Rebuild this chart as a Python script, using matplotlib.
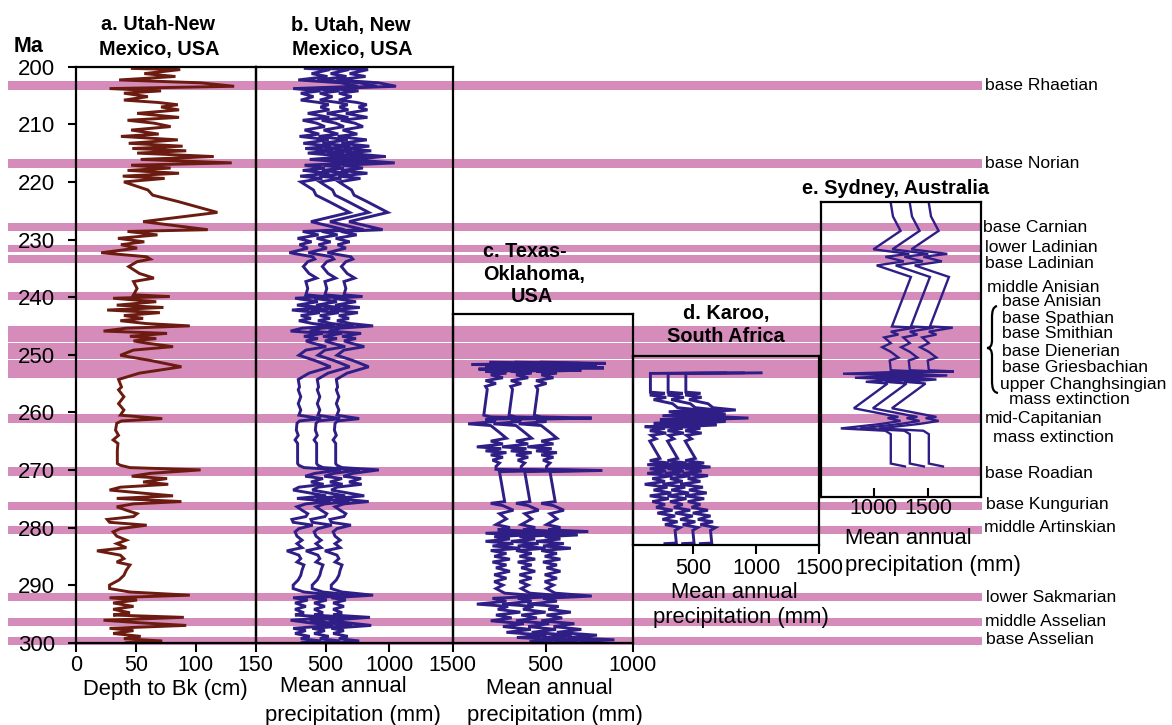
import matplotlib
matplotlib.use('Agg')
import numpy as np
import matplotlib.pyplot as plt
from matplotlib.path import Path
from matplotlib.patches import PathPatch

plt.rcParams['font.family'] = ['Liberation Sans', 'DejaVu Sans']

# ---------------- data ----------------
# a. Utah-New Mexico: depth to Bk horizon (cm) vs age (Ma)
a_age = [200.3, 200.5, 201.2, 201.7, 202.3, 202.8, 203.4, 203.8, 204.2, 204.6,
         205.2, 205.8, 206.2, 206.6, 207.0, 207.5, 208.1, 208.8, 209.3, 209.8,
         210.4, 211.0, 211.7, 212.1, 212.7, 213.3, 213.8, 214.2, 214.6, 215.0,
         215.6, 216.1, 216.7, 217.1, 217.6, 218.0, 218.5, 219.0, 219.4, 220.0,
         220.5, 221.4, 222.3, 223.4, 225.3, 226.9, 228.3, 228.6, 229.2, 229.8,
         230.4, 230.9, 231.5, 232.3,
         233.0, 233.4, 233.85, 234.7, 235.9, 236.7, 237.3, 238.5, 239.6, 239.9,
         240.2, 240.8, 241.4, 241.8, 242.25, 242.7, 243.2, 243.7, 244.1, 244.6,
         245.0, 245.4, 245.9, 246.3, 246.8, 247.2, 247.6, 248.0, 248.6, 249.2,
         250.1, 251.0, 252.1, 253.2, 254.3, 255.6, 256.1, 257.3, 258.5, 259.6,
         260.5, 261.1, 261.5, 261.9, 263.1, 264.0, 264.8, 265.4, 266.6, 268.9,
         269.2, 269.6, 270.0, 270.6, 271.1, 271.5, 272.1, 272.5, 273.0, 273.5,
         274.1, 274.5, 274.95, 275.5, 275.9, 276.4, 277.0, 277.6, 278.1, 278.6,
         279.1, 279.6, 280.2, 280.75, 281.5, 282.2, 282.8, 283.5, 284.05, 284.8,
         285.4, 286.0, 286.5, 287.4, 288.3, 289.1, 290.0, 290.6, 291.2, 291.75,
         292.2, 292.6, 293.1, 293.7, 294.2, 294.8, 295.2, 295.6, 296.1, 296.55,
         297.0, 297.5, 297.9, 298.4, 298.9, 299.3, 299.7, 300.0]
a_depth = [47, 87, 57, 83, 36, 104, 132, 28, 71, 40,
           60, 40, 68, 85, 71, 86, 51, 86, 43, 65,
           79, 46, 69, 37.5, 85, 44, 89, 47, 92, 51,
           115, 54, 130, 46, 79, 43, 86, 39, 74, 40,
           47, 60, 64, 85, 118, 56, 110, 43, 68, 35,
           57, 37.5, 51, 21,
           59, 62, 51, 44, 53, 65, 48, 51, 48, 78,
           31, 67, 34, 73, 26, 70, 40, 56, 37, 59,
           95, 42, 23, 76, 45, 67, 48, 59, 81, 48,
           37, 62, 88, 53, 35.5, 38, 35.5, 40, 35.5, 40,
           37, 72, 38, 34, 33, 35.5, 31, 35, 34.5, 34.5,
           37, 45, 104, 62, 46.5, 76, 56, 77, 37, 28,
           59, 81, 34, 88, 48, 34, 42, 51, 48, 26,
           28, 59, 37, 31, 34, 42, 34, 42, 17.5, 37,
           40, 34, 45, 42, 40, 36, 28, 28, 45, 95,
           28, 51, 31, 48, 31, 45, 31, 90, 23, 54,
           92, 28, 48, 31, 54, 40, 72, 42]

# b. Utah, New Mexico: mean annual precipitation (mm), same levels as a
b_map = [490, 685, 540, 665, 435, 770, 905, 395, 610, 455,
         555, 455, 595, 675, 610, 680, 510, 680, 470, 580,
         645, 485, 600, 445, 675, 475, 695, 490, 710, 510,
         825, 525, 895, 485, 645, 470, 680, 450, 625, 455,
         490, 555, 575, 675, 840, 535, 800, 470, 595, 430,
         540, 445, 510, 365,
         550, 565, 510, 475, 520, 580, 495, 510, 495, 640,
         410, 590, 425, 620, 385, 605, 455, 535, 440, 550,
         725, 465, 375, 630, 480, 590, 495, 550, 655, 495,
         440, 565, 690, 520, 435, 445, 435, 455, 435, 455,
         440, 615, 445, 425, 420, 435, 410, 430, 430, 430,
         440, 480, 770, 565, 490, 630, 535, 635, 440, 395,
         550, 655, 425, 690, 495, 425, 465, 510, 495, 385,
         395, 550, 440, 410, 425, 465, 425, 465, 345, 440,
         455, 425, 480, 465, 455, 435, 395, 395, 480, 725,
         395, 510, 410, 495, 410, 480, 410, 700, 375, 525,
         710, 395, 495, 410, 525, 455, 615, 465]
b_se = 150

# c. Texas-Oklahoma
c_age = [251.3, 251.5, 251.7, 251.9, 252.1, 252.3, 252.5, 252.7, 252.9, 253.2,
         253.5, 254.0, 254.5, 255.0, 255.5, 256.0, 260.5, 260.8, 261.0, 261.2,
         261.6, 262.0, 262.3, 263.5, 264.5, 265.0, 265.5, 266.0, 266.3, 266.7,
         267.0, 267.4, 267.8, 268.3, 268.8, 269.4, 269.9, 270.1, 270.3, 275.5,
         275.8, 276.2, 277.0, 277.6, 278.5, 279.5, 280.0, 280.4, 280.7, 281.0,
         281.3, 281.6, 282.0, 282.4, 282.8, 283.2, 283.6, 284.0, 284.5, 285.0,
         285.5, 286.0, 286.5, 287.0, 287.6, 288.2, 288.8, 289.4, 290.0, 290.6,
         291.4, 291.9, 292.3, 292.8, 293.3, 293.7, 294.2, 294.7, 295.2, 295.7,
         296.2, 296.7, 297.2, 297.7, 298.2, 298.7, 299.1, 299.5, 299.8]
c_map = [330, 700, 220, 650, 300, 690, 260, 560, 300, 420,
         330, 400, 300, 360, 300, 310, 290, 330, 620, 300,
         360, 200, 330, 380, 420, 330, 400, 250, 390, 300,
         420, 330, 400, 340, 380, 360, 360, 680, 380, 410,
         330, 400, 460, 380, 420, 360, 440, 370, 600, 300,
         540, 350, 440, 300, 460, 340, 500, 330, 420, 350,
         440, 340, 420, 360, 440, 350, 420, 350, 400, 360,
         410, 620, 340, 420, 250, 430, 370, 500, 360, 450,
         330, 520, 400, 560, 420, 650, 480, 750, 560]
c_se = 145

# d. Karoo, South Africa
d_age = [253.15, 253.25, 256.5, 256.7, 257.0, 257.4, 257.8, 258.5, 259.2, 259.6,
         259.9, 260.3, 260.6, 261.0, 261.3, 261.6, 261.9, 262.2, 262.5, 262.8,
         263.2, 263.6, 264.0, 264.6, 265.0, 268.0, 268.4, 268.8, 269.1, 269.5,
         269.8, 270.2, 270.6, 271.0, 271.5, 272.0, 272.5, 273.0, 273.5, 274.0,
         274.5, 275.0, 275.5, 276.0, 276.5, 277.0, 277.5, 278.0, 278.6, 279.0,
         279.5, 280.0, 280.5, 282.7, 282.8]
d_map = [900, 305, 305, 420, 300, 430, 330, 480, 520, 700,
         450, 620, 400, 800, 380, 620, 330, 550, 260, 420,
         300, 430, 310, 350, 300, 380, 300, 450, 280, 500,
         300, 430, 280, 480, 320, 420, 260, 440, 330, 470,
         300, 450, 320, 420, 350, 480, 360, 500, 400, 520,
         420, 540, 500, 510, 420]
d_se = 140

# e. Sydney, Australia
e_age = [223.7, 226.0, 228.5, 231.7, 232.5, 233.0, 233.8, 234.5, 236.5, 245.1,
         245.3, 246.0, 246.5, 247.0, 248.0, 248.7, 249.5, 250.5, 251.0, 252.7,
         252.9, 253.3, 253.6, 254.0, 254.3, 254.7, 255.0, 259.3, 260.8, 261.0,
         261.5, 262.0, 262.8, 263.2, 263.8, 268.9, 269.4]
e_map = [1330, 1350, 1420, 1170, 1500, 1280, 1450, 1200, 1515, 1340,
         1550, 1330, 1400, 1270, 1330, 1250, 1330, 1400, 1320, 1330,
         1560, 890, 1500, 1000, 1400, 1100, 1300, 990, 1400, 1300,
         1420, 1250, 870, 1280, 1330, 1330, 1460]
e_se = 175

# Stage boundaries (Ma) shown as pink bands, and their labels
band_ranges = [(202.4, 204.0), (216.1, 217.6), (227.1, 228.6), (230.9, 232.1),
               (232.7, 234.0), (239.1, 240.5), (245.0, 247.8), (248.0, 250.8),
               (251.0, 254.0), (260.3, 261.8), (269.5, 271.1), (275.5, 276.9),
               (279.7, 281.1), (291.3, 292.8), (295.7, 297.1), (299.0, 300.4)]
stage_labels = ['base Rhaetian', 'base Norian', 'base Carnian', 'lower Ladinian',
                'base Ladinian', 'middle Anisian', 'base Anisian', 'base Spathian',
                'base Smithian', 'base Dienerian', 'base Griesbachian',
                'upper Changhsingian', 'mass extinction', 'mid-Capitanian',
                'mass extinction', 'base Roadian', 'base Kungurian',
                'middle Artinskian', 'lower Sakmarian', 'middle Asselian',
                'base Asselian']
y_ticks = list(range(200, 301, 10))

# ---------------- layout (pixels) ----------------
W, H = 1172, 725
fig = plt.figure(figsize=(W / 100, H / 100), dpi=100)
fig.patch.set_facecolor('white')

def fx(x):
    return x / W

def fy(y):
    return 1 - y / H

def y_of(ma):
    return 66.7 + (ma - 200) * 5.76

PINK = '#D58CBA'
BROWN = '#6B1B10'
BLUE = '#2E1E86'
LW = 2.1

# background axes for the pink bands
bg = fig.add_axes([fx(8), fy(y_of(300)), fx(982) - fx(8), fy(y_of(200)) - fy(y_of(300))])
bg.set_xlim(0, 1)
bg.set_ylim(300, 200)
bg.axis('off')
bg.set_zorder(0)
for lo, hi in band_ranges:
    bg.axhspan(lo, hi, color=PINK, lw=0, clip_on=False)


def add_panel(x0, x1, ma_top, ma_bot, xlim, xticks, tick_dir='out'):
    y0, y1 = y_of(ma_top), y_of(ma_bot)
    ax = fig.add_axes([fx(x0), fy(y1), fx(x1) - fx(x0), fy(y0) - fy(y1)])
    ax.set_zorder(2)
    ax.patch.set_alpha(0)
    ax.set_ylim(ma_bot, ma_top)
    ax.set_xlim(*xlim)
    ax.set_xticks(xticks)
    ax.set_yticks([])
    for s in ax.spines.values():
        s.set_linewidth(1.6)
        s.set_color('black')
    ax.tick_params(axis='x', direction=tick_dir, length=6.5, width=1.5,
                   labelsize=15.5, pad=(1 if tick_dir == 'in' else 2.5))
    return ax

# a
ax_a = add_panel(76, 255.7, 200, 300, (0, 150), [0, 50, 100, 150])
ax_a.set_yticks(y_ticks)
ax_a.tick_params(axis='y', direction='out', length=6, width=1.5, labelsize=16, pad=9)
ax_a.plot(a_depth, a_age, color=BROWN, lw=LW, solid_joinstyle='miter')

# b
ax_b = add_panel(255.7, 452.5, 200, 300, (-50, 1500), [500, 1000, 1500])
bm = np.array(b_map, dtype=float)
for k in (-1, 0, 1):
    ax_b.plot(bm + k * b_se, a_age, color=BLUE, lw=LW, solid_joinstyle='miter')

# c
ax_c = add_panel(453.3, 632.7, 243, 300, (-30, 1000), [500, 1000])
cm = np.array(c_map, dtype=float)
for k in (-1, 0, 1):
    ax_c.plot(cm + k * c_se, c_age, color=BLUE, lw=LW, solid_joinstyle='miter')

# d
ax_d = add_panel(632.7, 819.3, 250.3, 283.1, (25, 1500), [500, 1000, 1500])
dm = np.array(d_map, dtype=float)
for k in (-1, 0, 1):
    ax_d.plot(dm + k * d_se, d_age, color=BLUE, lw=LW, solid_joinstyle='miter')

# e
ax_e = add_panel(820.7, 981, 223.5, 274.7, (510, 1985), [1000, 1500], tick_dir='in')
em = np.array(e_map, dtype=float)
for k in (-1, 0, 1):
    ax_e.plot(em + k * e_se, e_age, color=BLUE, lw=1.7, solid_joinstyle='miter')

# ---------------- texts ----------------
TFS = 14.3
def T(x, y, s, ha='center', **kw):
    fig.text(fx(x), fy(y), s, ha=ha, va='center', **kw)

T(29, 46, 'Ma', fontsize=15.5, fontweight='bold')
T(158, 25, 'a. Utah-New', fontsize=TFS, fontweight='bold')
T(159, 50, 'Mexico, USA', fontsize=TFS, fontweight='bold')
T(351, 25, 'b. Utah, New', fontsize=TFS, fontweight='bold')
T(352, 50, 'Mexico, USA', fontsize=TFS, fontweight='bold')
T(483, 251, 'c. Texas-', ha='left', fontsize=TFS, fontweight='bold')
T(483, 274, 'Oklahoma,', ha='left', fontsize=TFS, fontweight='bold')
T(532, 297, 'USA', fontsize=TFS, fontweight='bold')
T(726, 313, 'd. Karoo,', fontsize=TFS, fontweight='bold')
T(726, 337, 'South Africa', fontsize=TFS, fontweight='bold')
T(895, 189, 'e. Sydney, Australia', fontsize=TFS, fontweight='bold')

AFS = 15.8
T(165, 689, 'Depth to Bk (cm)', fontsize=AFS)
T(343, 687, 'Mean annual', fontsize=AFS)
T(353, 715, 'precipitation (mm)', fontsize=AFS)
T(549, 688, 'Mean annual', fontsize=AFS)
T(555, 715, 'precipitation (mm)', fontsize=AFS)
T(734, 592, 'Mean annual', fontsize=AFS)
T(741, 618, 'precipitation (mm)', fontsize=AFS)
T(845, 538, 'Mean annual', ha='left', fontsize=AFS)
T(845, 565, 'precipitation (mm)', ha='left', fontsize=AFS)

label_xy = [(985, 85), (985, 163), (983, 228), (985, 248), (985, 264),
            (987, 287), (1002, 302), (1002, 318), (1002, 334), (1002, 351),
            (1002, 368), (1000, 384), (1009, 400), (985, 419), (993, 437),
            (985, 473), (986, 504), (984, 527), (986, 597), (985, 622),
            (986, 640)]
for (x, y), s in zip(label_xy, stage_labels):
    T(x, y, s, ha='left', fontsize=12.6)

# curly brace grouping the Early Triassic boundaries
bx = [(997, 306), (993, 307), (992, 311), (992, 318),
      (992, 340), (992, 346), (990, 348), (987, 348),
      (990, 348), (992, 350), (992, 356),
      (992, 380), (992, 388), (993, 392), (998, 393)]
codes = [Path.MOVETO, Path.CURVE4, Path.CURVE4, Path.CURVE4,
         Path.LINETO, Path.CURVE4, Path.CURVE4, Path.CURVE4,
         Path.CURVE4, Path.CURVE4, Path.CURVE4,
         Path.LINETO, Path.CURVE4, Path.CURVE4, Path.CURVE4]
verts = [(fx(x), fy(y)) for x, y in bx]
fig.add_artist(PathPatch(Path(verts, codes), transform=fig.transFigure,
                         fill=False, lw=1.6, color='black'))

fig.savefig('out.png', dpi=100, facecolor='white')
